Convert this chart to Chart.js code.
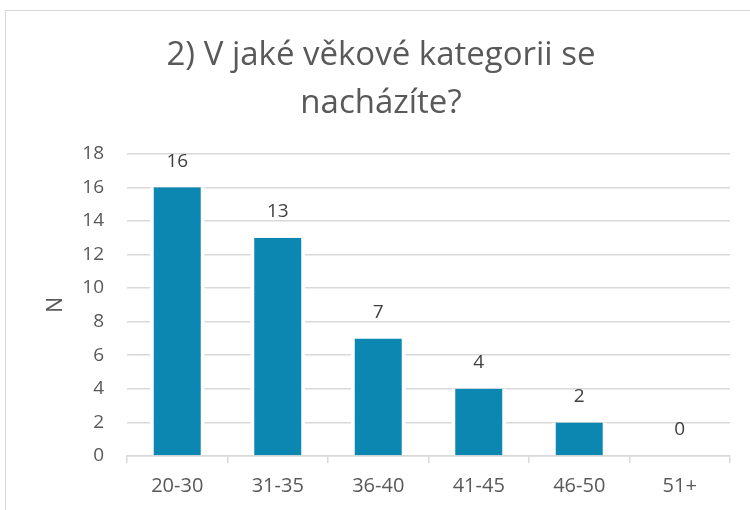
<!DOCTYPE html>
<html>
<head>
<meta charset="utf-8">
<script src="https://cdn.jsdelivr.net/npm/chart.js@4.4.1/dist/chart.umd.min.js"></script>
<style>
  html, body { margin: 0; padding: 0; background: #fff; overflow: hidden; width: 750px; height: 510px; }
  #frame { position: absolute; left: 5px; top: 10px; width: 800px; height: 560px; border-top: 1px solid #D6D6D6; border-left: 1px solid #D6D6D6; }
  #wrap { position: absolute; left: 0; top: 0; width: 750px; height: 510px; }
</style>
</head>
<body>
<div id="frame"></div>
<div id="wrap"><canvas id="c" width="750" height="510"></canvas></div>
<script>
const titleLines = ["2) V jaké věkové kategorii se", "nacházíte?"];
const categories = ["20-30", "31-35", "36-40", "41-45", "46-50", "51+"];
const counts = [16, 13, 7, 4, 2, 0];
const yTicks = [0, 2, 4, 6, 8, 10, 12, 14, 16, 18];
const yAxisTitle = "N";

const FONT = "'Open Sans', sans-serif";

const valueLabels = {
  id: 'valueLabels',
  afterDatasetsDraw(chart) {
    const ctx = chart.ctx;
    const meta = chart.getDatasetMeta(0);
    ctx.save();
    ctx.font = "19px " + FONT;
    ctx.fillStyle = "#404040";
    ctx.textAlign = "center";
    ctx.textBaseline = "middle";
    meta.data.forEach((bar, i) => {
      ctx.fillText(String(counts[i]), bar.x, bar.y - 26);
    });
    ctx.restore();
  }
};

new Chart(document.getElementById('c'), {
  type: 'bar',
  data: {
    labels: categories,
    datasets: [{
      data: counts,
      backgroundColor: '#0B87B1',
      borderColor: '#FFFFFF',
      borderWidth: { left: 4, right: 4, top: 0, bottom: 0 },
      borderSkipped: false,
      barPercentage: 0.547,
      categoryPercentage: 1.0
    }]
  },
  options: {
    responsive: false,
    animation: false,
    devicePixelRatio: 1,
    layout: { padding: { left: 32, right: 20, top: 0, bottom: 0 } },
    plugins: {
      legend: { display: false },
      tooltip: { enabled: false },
      title: {
        display: true,
        text: titleLines,
        color: '#595959',
        font: { family: FONT, size: 33, weight: 'normal', lineHeight: 1.45 },
        padding: { top: 32, bottom: 26 }
      }
    },
    scales: {
      x: {
        grid: { display: true, drawOnChartArea: false, drawTicks: true, tickLength: 7, color: '#D9D9D9', lineWidth: 1.5, offset: true },
        border: { display: true, color: '#D9D9D9', width: 1.5 },
        ticks: { color: '#595959', font: { family: FONT, size: 20 }, padding: 11, maxRotation: 0 },
        afterFit(scale) { scale.height = 54; }
      },
      y: {
        min: 0, max: 18,
        afterBuildTicks(scale) { scale.ticks = yTicks.map(v => ({ value: v })); },
        grid: { color: '#D9D9D9', lineWidth: 1.5, drawTicks: false },
        border: { display: false },
        ticks: { color: '#595959', font: { family: FONT, size: 19 }, padding: 23 },
        title: { display: true, text: yAxisTitle, color: '#595959', font: { family: FONT, size: 21 }, padding: { top: 11, bottom: 0 } },
        afterFit(scale) { scale.width = 95; }
      }
    }
  },
  plugins: [valueLabels]
});
</script>
</body>
</html>
